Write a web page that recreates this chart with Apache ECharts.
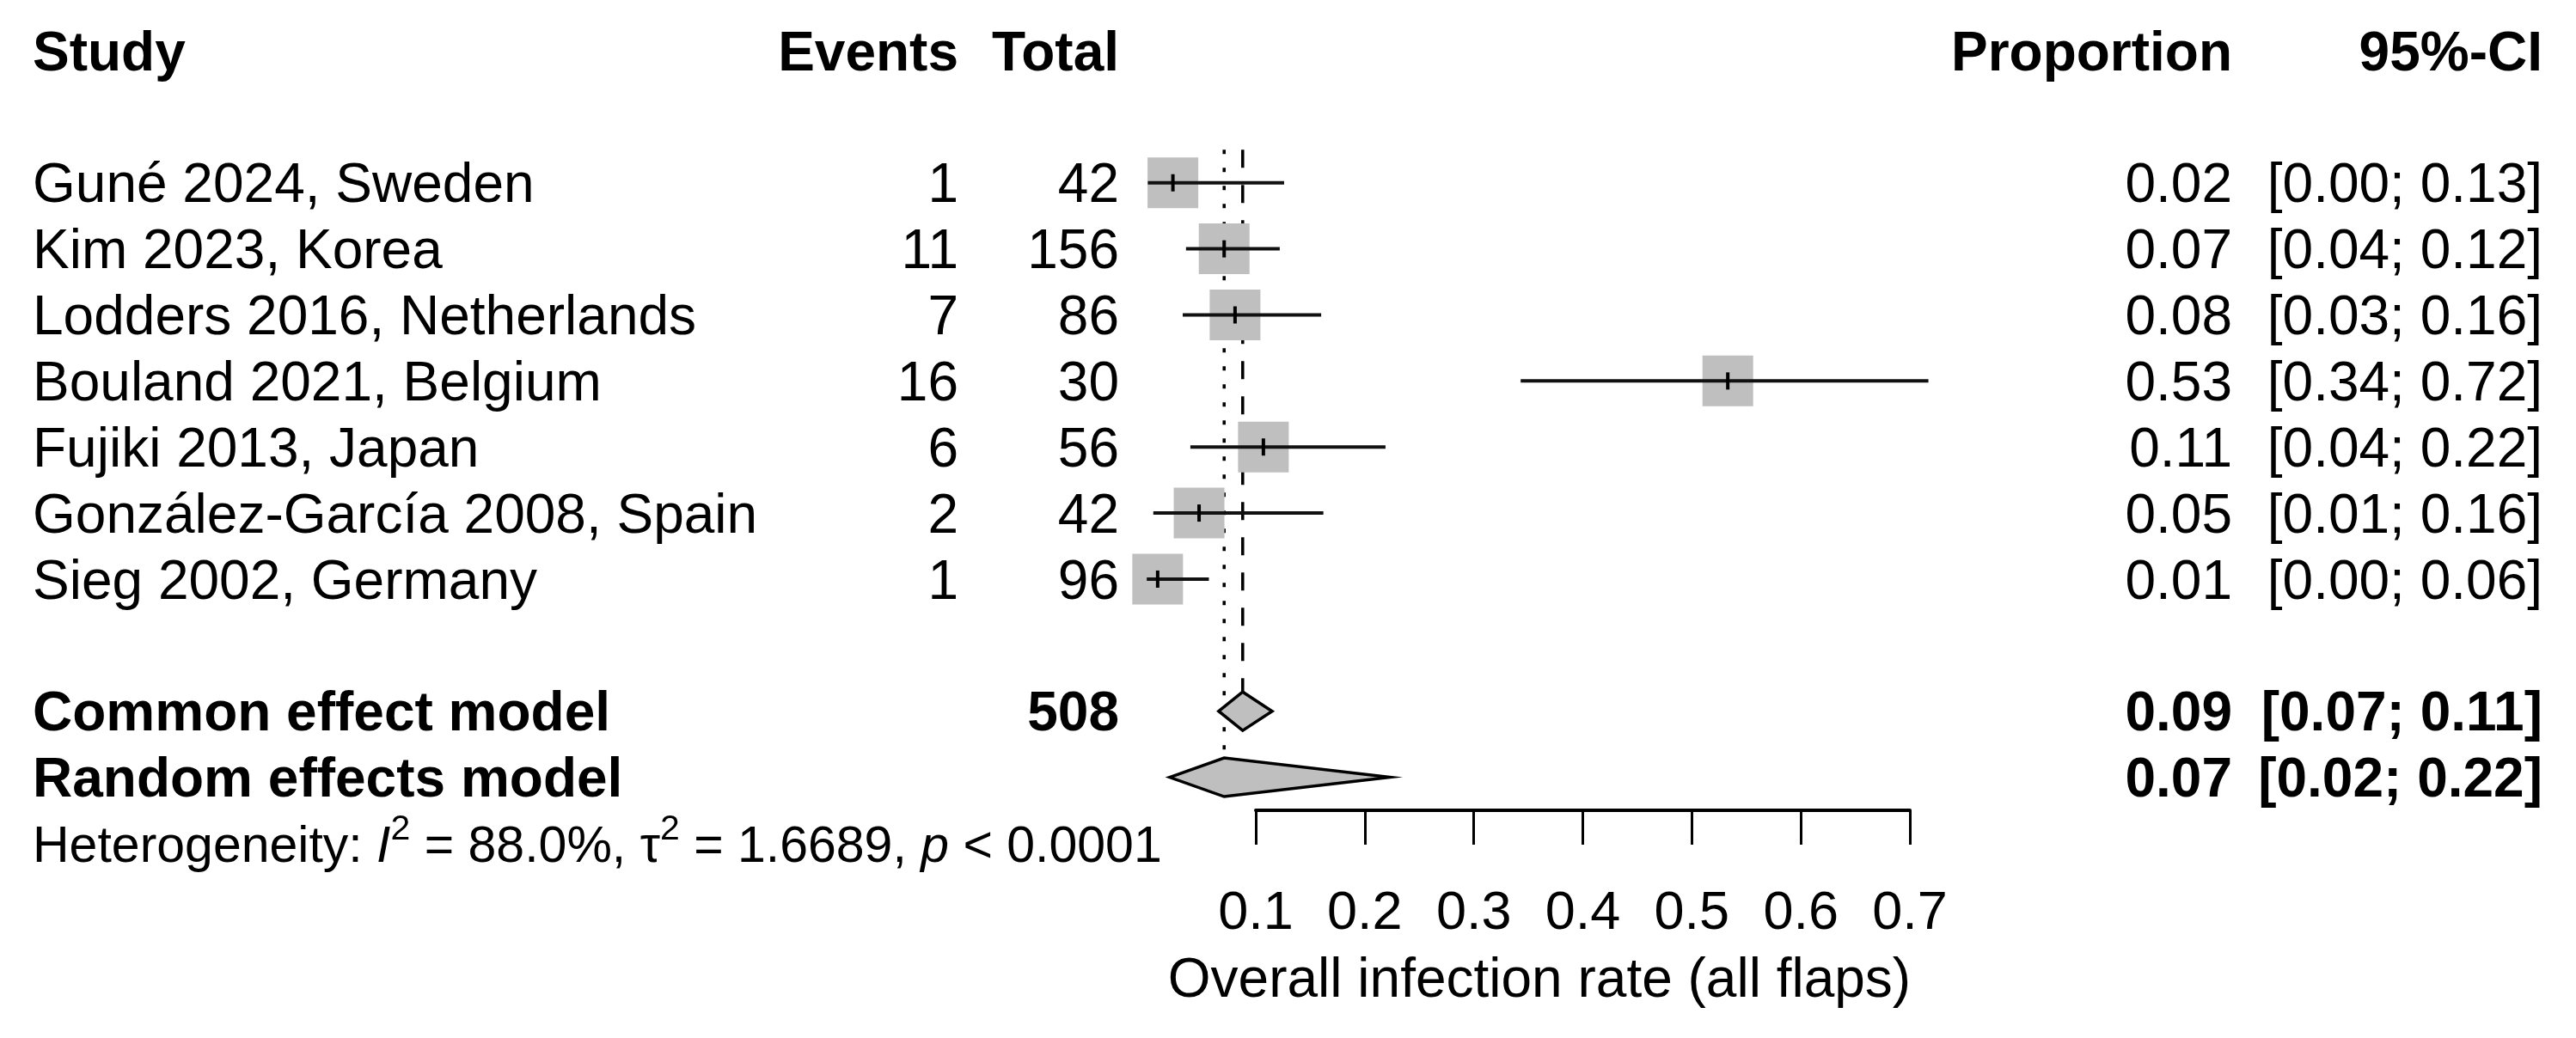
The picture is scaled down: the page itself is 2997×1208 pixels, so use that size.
<!DOCTYPE html>
<html><head><meta charset="utf-8">
<script src="https://cdn.jsdelivr.net/npm/echarts@6/dist/echarts.min.js"></script>
<style>html,body{margin:0;padding:0;background:#fff}#c{width:2997px;height:1208px}</style>
</head><body><div id="c"></div>
<script>
// ---------- data ----------
const headers = ["Study", "Events", "Total", "Proportion", "95%-CI"];
const studies = ["Guné 2024, Sweden", "Kim 2023, Korea", "Lodders 2016, Netherlands", "Bouland 2021, Belgium",
                 "Fujiki 2013, Japan", "González-García 2008, Spain", "Sieg 2002, Germany"];
const events = [1, 11, 7, 16, 6, 2, 1];
const totals = [42, 156, 86, 30, 56, 42, 96];
const proportion = [0.024, 0.071, 0.081, 0.533, 0.107, 0.048, 0.010];
const ciLower = [0.001, 0.036, 0.033, 0.343, 0.040, 0.006, 0.000];
const ciUpper = [0.126, 0.122, 0.160, 0.717, 0.219, 0.162, 0.057];
const propLabels = ["0.02", "0.07", "0.08", "0.53", "0.11", "0.05", "0.01"];
const ciLabels = ["[0.00; 0.13]", "[0.04; 0.12]", "[0.03; 0.16]", "[0.34; 0.72]", "[0.04; 0.22]", "[0.01; 0.16]", "[0.00; 0.06]"];
const modelNames = ["Common effect model", "Random effects model"];
const modelTotals = ["508", ""];
const modelEst = [0.088, 0.071];
const modelLower = [0.066, 0.021];
const modelUpper = [0.115, 0.223];
const modelPropLabels = ["0.09", "0.07"];
const modelCiLabels = ["[0.07; 0.11]", "[0.02; 0.22]"];
const xTicks = [0.1, 0.2, 0.3, 0.4, 0.5, 0.6, 0.7];
const xTitle = "Overall infection rate (all flaps)";
const hetText = "{n|Heterogeneity: }{i|I}{s|2}{n| = 88.0%, τ}{s|2}{n| = 1.6689, }{i|p}{n| < 0.0001}";

// ---------- layout / style ----------
const FONT = '"Liberation Sans", Arial, sans-serif';
const FS = 64;
const TEXT_DY = 5;
const ROW_HEADER = 0, ROW_FIRST = 2, ROW_MODEL = 10, ROW_HET = 12;
const colX = [38, 1115, 1302, 2597, 2958];
const colAlign = ['left', 'right', 'right', 'right', 'right'];
const SQ = 59, DIA_H = 22.5;
const GRAY = '#bfbfbf';

const tableLines = [];
tableLines.push({ row: ROW_HEADER, cells: headers, weight: 'bold' });
studies.forEach((s, i) => tableLines.push({ row: ROW_FIRST + i,
  cells: [s, String(events[i]), String(totals[i]), propLabels[i], ciLabels[i]], weight: 'normal' }));
modelNames.forEach((m, i) => tableLines.push({ row: ROW_MODEL + i,
  cells: [m, '', modelTotals[i], modelPropLabels[i], modelCiLabels[i]], weight: 'bold' }));
tableLines.push({ row: ROW_HET, rich: true });

const hetRich = {
  n: { fontSize: 59, fontFamily: FONT, fill: '#000', lineHeight: 64 },
  i: { fontSize: 59, fontFamily: FONT, fontStyle: 'italic', fill: '#000', lineHeight: 64 },
  s: { fontSize: 41, fontFamily: FONT, fill: '#000', lineHeight: 41, padding: [0, 0, 42, 0] }
};

const chart = echarts.init(document.getElementById('c'), null, { renderer: 'canvas' });
chart.setOption({
  backgroundColor: '#fff',
  animation: false,
  grid: { left: 1461, right: 775, top: 59, bottom: 1208 - (59 + 11.5 * 76.87), outerBoundsMode: 'none' },
  xAxis: {
    type: 'value', min: 0.1, max: 0.7, interval: 0.1, position: 'bottom',
    splitLine: { show: false },
    axisLine: { show: true, onZero: false, lineStyle: { color: '#000', width: 4 } },
    axisTick: { show: true, length: 40, inside: false, lineStyle: { color: '#000', width: 3 } },
    axisLabel: { show: true, margin: 121, verticalAlign: 'middle', fontSize: 63, fontFamily: FONT, color: '#000',
      showMinLabel: true, showMaxLabel: true, formatter: v => v.toFixed(1) }
  },
  yAxis: { type: 'value', min: 0, max: 11.5, inverse: true, show: false },
  graphic: [{ type: 'text', x: 1791, y: 1142, silent: true,
    style: { text: xTitle, align: 'center', verticalAlign: 'middle', fontSize: 64, fontFamily: FONT, fill: '#000' } }],
  series: [
    { // reference lines
      type: 'custom', clip: false, silent: true, z: 1,
      data: [[modelEst[0], ROW_MODEL, 0], [modelEst[1], ROW_MODEL + 1, 1]],
      encode: { x: 0, y: 1 },
      renderItem(params, api) {
        const x = api.value(0), r = api.value(1), kind = api.value(2);
        const top = api.coord([x, 1.5]);
        const bot = api.coord([x, r]);
        return { type: 'line', shape: { x1: top[0], y1: top[1], x2: bot[0], y2: bot[1] - DIA_H },
          style: { stroke: '#000', lineWidth: 3.5, lineDash: kind === 0 ? [21, 20] : [5, 16] } };
      }
    },
    { // studies
      type: 'custom', clip: false, silent: true, z: 2,
      data: proportion.map((p, i) => [p, ciLower[i], ciUpper[i], ROW_FIRST + i]),
      encode: { x: [0, 1, 2], y: 3 },
      renderItem(params, api) {
        const r = api.value(3);
        const c = api.coord([api.value(0), r]);
        const l = api.coord([api.value(1), r]);
        const h = api.coord([api.value(2), r]);
        return { type: 'group', children: [
          { type: 'rect', shape: { x: c[0] - SQ / 2, y: c[1] - SQ / 2, width: SQ, height: SQ }, style: { fill: GRAY } },
          { type: 'line', shape: { x1: l[0], y1: c[1], x2: h[0], y2: c[1] }, style: { stroke: '#111', lineWidth: 4 } },
          { type: 'line', shape: { x1: c[0], y1: c[1] - 10, x2: c[0], y2: c[1] + 10 }, style: { stroke: '#000', lineWidth: 4 } }
        ] };
      }
    },
    { // model diamonds
      type: 'custom', clip: false, silent: true, z: 3,
      data: modelEst.map((e, i) => [e, modelLower[i], modelUpper[i], ROW_MODEL + i]),
      encode: { x: [0, 1, 2], y: 3 },
      renderItem(params, api) {
        const r = api.value(3);
        const c = api.coord([api.value(0), r]);
        const l = api.coord([api.value(1), r]);
        const h = api.coord([api.value(2), r]);
        return { type: 'polygon', shape: { points: [[l[0], c[1]], [c[0], c[1] - DIA_H], [h[0], c[1]], [c[0], c[1] + DIA_H]] },
          style: { fill: GRAY, stroke: '#000', lineWidth: 3.5, lineJoin: 'miter' } };
      }
    },
    { // table text
      type: 'custom', clip: false, silent: true, z: 4,
      data: tableLines.map(t => [xTicks[0], t.row]),
      encode: { x: 0, y: 1 },
      renderItem(params, api) {
        const line = tableLines[params.dataIndex];
        const y = api.coord([xTicks[0], api.value(1)])[1] + TEXT_DY;
        if (line.rich) {
          return { type: 'text', style: { text: hetText, rich: hetRich, x: colX[0], y: y, align: 'left',
            verticalAlign: 'middle', fontSize: 59, fontFamily: FONT, fill: '#000' } };
        }
        return { type: 'group', children: line.cells.map((t, k) => ({ type: 'text',
          style: { text: t, x: colX[k], y: y, align: colAlign[k], verticalAlign: 'middle',
            fontSize: FS, fontFamily: FONT, fontWeight: line.weight, fill: '#000' } })) };
      }
    }
  ]
});
</script></body></html>
